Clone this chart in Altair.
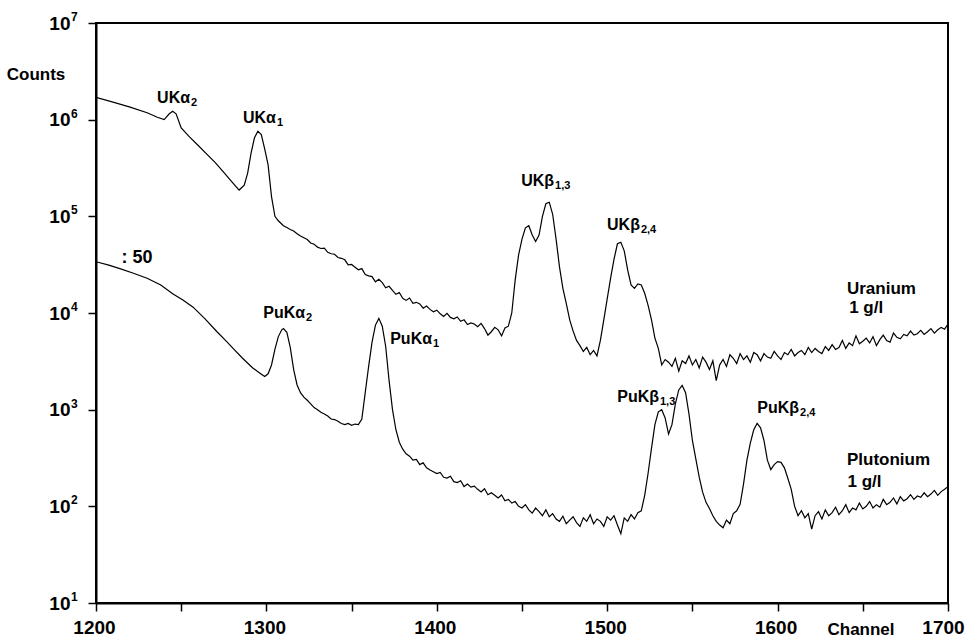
import altair as alt
import pandas as pd

# ---------------- data (channel, counts) ----------------
URANIUM = [
    (1200, 1700000), (1210, 1520000), (1220, 1350000), (1230, 1180000), (1236, 1060000),
    (1240, 1000000), (1243, 1150000), (1245, 1220000), (1247, 1150000), (1250, 820000),
    (1255, 660000), (1260, 540000), (1265, 440000), (1270, 360000), (1275, 285000),
    (1280, 225000), (1284, 187000), (1287, 210000), (1289, 280000), (1291, 450000),
    (1293, 650000), (1295, 760000), (1297, 700000), (1299, 500000), (1301, 340000),
    (1303, 160000), (1305, 100000), (1307, 90000),
    (1310, 80000), (1312, 76500), (1314, 73000), (1316, 70500), (1318, 66000),
    (1320, 62500), (1322, 60000), (1324, 57500), (1326, 53000), (1328, 51500),
    (1330, 48000), (1332, 46500), (1334, 47000), (1336, 42500), (1338, 41000),
    (1340, 40500), (1342, 37500), (1344, 36800), (1346, 35500), (1348, 31500),
    (1350, 31800), (1352, 29800), (1354, 28000), (1356, 28800), (1358, 25000),
    (1360, 24200), (1362, 23800), (1364, 21000), (1366, 22300), (1368, 20600),
    (1370, 18200), (1372, 18900), (1374, 17100), (1376, 15600), (1378, 16300),
    (1380, 14200), (1382, 13500), (1384, 14300), (1386, 12600), (1388, 12900),
    (1390, 12400), (1392, 11200), (1394, 11800), (1396, 10900), (1398, 10300),
    (1400, 10700), (1402, 9800), (1404, 9200), (1406, 9900), (1408, 9000),
    (1410, 8700), (1412, 9100), (1414, 8200), (1416, 8500), (1418, 7600),
    (1420, 7900), (1422, 7700), (1424, 7200), (1426, 7800), (1428, 6900),
    (1430, 5900), (1432, 6400), (1434, 7100), (1436, 6700), (1438, 5800),
    (1440, 7000), (1442, 7300), (1444, 10000), (1446, 22000), (1448, 40000),
    (1450, 58000), (1452, 76000), (1454, 80000), (1456, 64000), (1458, 55000),
    (1460, 64000), (1462, 100000), (1464, 135000), (1466, 140000), (1468, 105000),
    (1470, 58000), (1472, 30000), (1474, 18000), (1476, 12500), (1478, 8500),
    (1480, 6500), (1482, 5200), (1484, 4600), (1486, 4000), (1488, 4400),
    (1490, 3700), (1492, 4100), (1494, 3600), (1496, 5200), (1498, 8500),
    (1500, 14000), (1502, 23000), (1504, 36000), (1506, 52000), (1508, 54000),
    (1510, 44000), (1512, 28000), (1514, 19500), (1516, 18000), (1518, 20000),
    (1520, 19500), (1522, 16000), (1524, 12000), (1526, 8500), (1528, 5500),
    (1530, 4300), (1532, 2900), (1534, 3300), (1536, 3100), (1538, 2800),
    (1540, 3400), (1542, 2500), (1544, 3200), (1546, 3000), (1548, 3600),
    (1550, 2900), (1552, 3300), (1554, 2700), (1556, 3500), (1558, 3100),
    (1560, 2600), (1562, 3200), (1564, 2000), (1566, 2900), (1568, 3300),
    (1570, 2800), (1572, 3700), (1574, 3400), (1576, 3000), (1578, 3800),
    (1580, 3300), (1582, 3600), (1584, 3100), (1586, 3900), (1588, 3700),
    (1590, 3200), (1592, 3800), (1594, 3500), (1596, 3400), (1598, 4000),
    (1600, 3600), (1602, 3300), (1604, 3900), (1606, 3700), (1608, 4200),
    (1610, 3600), (1612, 3900), (1614, 4100), (1616, 3700), (1618, 4400),
    (1620, 3900), (1622, 4300), (1624, 4000), (1626, 3800), (1628, 4500),
    (1630, 4100), (1632, 4700), (1634, 4200), (1636, 4400), (1638, 5200),
    (1640, 4300), (1642, 4900), (1644, 4600), (1646, 5800), (1648, 4800),
    (1650, 5100), (1652, 5500), (1654, 4900), (1656, 5700), (1658, 4600),
    (1660, 5300), (1662, 5900), (1664, 5200), (1666, 5000), (1668, 6200),
    (1670, 5600), (1672, 5400), (1674, 6000), (1676, 5800), (1678, 6500),
    (1680, 5900), (1682, 6100), (1684, 6600), (1686, 6000), (1688, 6400),
    (1690, 6900), (1692, 6200), (1694, 6700), (1696, 7100), (1698, 6800),
    (1700, 7700),
]

PLUTONIUM = [
    (1200, 33900), (1207, 31500), (1214, 28800), (1222, 25800), (1230, 22900),
    (1238, 19500), (1245, 15800), (1251, 13600), (1257, 11500), (1264, 8700),
    (1271, 6400), (1276, 5200), (1281, 4200), (1286, 3400), (1292, 2700),
    (1296, 2400), (1299, 2200), (1301, 2350), (1303, 2900), (1305, 4200),
    (1307, 5700), (1309, 6700), (1310, 6900), (1312, 6300),
    (1314, 4400), (1316, 2600), (1318, 1800), (1320, 1500), (1322, 1350),
    (1324, 1250), (1326, 1150), (1328, 1050), (1330, 1000), (1332, 940),
    (1334, 900), (1336, 860), (1338, 800), (1340, 790), (1342, 760),
    (1344, 720), (1346, 700), (1348, 720), (1350, 690), (1352, 710),
    (1354, 700), (1356, 800), (1358, 1500), (1360, 2800), (1362, 5000),
    (1364, 7500), (1366, 8800), (1368, 7300), (1370, 4500), (1372, 2000),
    (1374, 1000), (1376, 620), (1378, 460), (1380, 390), (1382, 350),
    (1384, 330), (1386, 300), (1388, 305), (1390, 270), (1392, 282),
    (1394, 250), (1396, 238), (1398, 228), (1400, 218), (1402, 224),
    (1404, 200), (1406, 196), (1408, 205), (1410, 180), (1412, 176),
    (1414, 184), (1416, 160), (1418, 170), (1420, 158), (1422, 162),
    (1424, 150), (1426, 141), (1428, 152), (1430, 132), (1432, 138),
    (1434, 130), (1436, 122), (1438, 131), (1440, 114), (1442, 118),
    (1444, 108), (1446, 112), (1448, 100), (1450, 96), (1452, 104),
    (1454, 92), (1456, 85), (1458, 96), (1460, 88), (1462, 80),
    (1464, 92), (1466, 78), (1468, 84), (1470, 74), (1472, 70),
    (1474, 79), (1476, 66), (1478, 72), (1480, 78), (1482, 68),
    (1484, 62), (1486, 76), (1488, 70), (1490, 82), (1492, 66),
    (1494, 74), (1496, 70), (1498, 62), (1500, 78), (1502, 72),
    (1504, 80), (1506, 64), (1508, 52), (1510, 76), (1512, 70),
    (1514, 82), (1516, 74), (1518, 86), (1520, 90), (1522, 130),
    (1524, 220), (1526, 400), (1528, 700), (1530, 950), (1532, 1000),
    (1534, 820), (1536, 560), (1538, 700), (1540, 1150), (1542, 1600),
    (1544, 1780), (1546, 1500), (1548, 900), (1550, 480), (1552, 310),
    (1554, 200), (1556, 140), (1558, 110), (1560, 95), (1562, 80),
    (1564, 70), (1566, 64), (1568, 60), (1570, 72), (1572, 66),
    (1574, 84), (1576, 90), (1578, 105), (1580, 170), (1582, 300),
    (1584, 450), (1586, 620), (1588, 720), (1590, 650), (1592, 480),
    (1594, 300), (1596, 240), (1598, 270), (1600, 290), (1602, 285),
    (1604, 250), (1606, 195), (1608, 150), (1610, 100), (1612, 80),
    (1614, 90), (1616, 76), (1618, 84), (1620, 58), (1622, 80),
    (1624, 88), (1626, 74), (1628, 92), (1630, 80), (1632, 86),
    (1634, 98), (1636, 82), (1638, 90), (1640, 104), (1642, 86),
    (1644, 96), (1646, 92), (1648, 108), (1650, 94), (1652, 100),
    (1654, 112), (1656, 96), (1658, 104), (1660, 98), (1662, 118),
    (1664, 104), (1666, 110), (1668, 122), (1670, 106), (1672, 126),
    (1674, 114), (1676, 120), (1678, 132), (1680, 118), (1682, 128),
    (1684, 124), (1686, 138), (1688, 126), (1690, 134), (1692, 146),
    (1694, 130), (1696, 142), (1698, 150), (1700, 160),
]

# peak labels: main text, subscript, anchor channel, anchor counts
PEAK_MAIN = ["UKα", "UKα", "UKβ", "UKβ", "PuKα", "PuKα", "PuKβ", "PuKβ"]
PEAK_SUB = ["2", "1", "1,3", "2,4", "2", "1", "1,3", "2,4"]
PEAK_CH = [1255.2, 1305.6, 1468.8, 1519.2, 1322.7, 1397.2, 1530.4, 1612.6]
PEAK_COUNTS = [1.67e6, 1.04e6, 2.31e5, 8.1e4, 1.0e4, 5.4e3, 1.35e3, 1.04e3]

NOTE_TEXT = ["Uranium", "1 g/l", "Plutonium", "1 g/l"]
NOTE_CH = [1640.7, 1642.0, 1640.7, 1641.0]
NOTE_COUNTS = [1.77e4, 1.12e4, 301, 178]

SCALE_TEXT = [": 50"]
SCALE_CH = [1224]
SCALE_COUNTS = [3.7e4]

X_TICKS = [1200, 1250, 1300, 1350, 1400, 1450, 1500, 1550, 1600, 1650, 1700]
Y_TICKS = [10, 100, 1000, 10000, 100000, 1000000, 10000000]
Y_EXPONENTS = ["1", "2", "3", "4", "5", "6", "7"]

FONT = "Liberation Sans, Arial, sans-serif"

# ---------------- build ----------------
df = pd.DataFrame(
    [{"channel": c, "counts": v, "series": "Uranium"} for c, v in URANIUM]
    + [{"channel": c, "counts": v, "series": "Plutonium"} for c, v in PLUTONIUM]
)
peaks = pd.DataFrame({"main": PEAK_MAIN, "sub": PEAK_SUB, "ch": PEAK_CH, "counts": PEAK_COUNTS})
notes = pd.DataFrame({"t": NOTE_TEXT, "ch": NOTE_CH, "counts": NOTE_COUNTS})
scl = pd.DataFrame({"t": SCALE_TEXT, "ch": SCALE_CH, "counts": SCALE_COUNTS})
expo = pd.DataFrame({"counts": Y_TICKS, "e": Y_EXPONENTS})

xscale = alt.Scale(domain=[1200, 1700], nice=False, zero=False)
yscale = alt.Scale(type="log", domain=[10, 10000000], nice=False)

xaxis = alt.Axis(
    values=X_TICKS, labelExpr="datum.value % 100 == 0 ? datum.label : ''", format="d",
    grid=False, title=None, tickSize=8, tickWidth=1.5, tickColor="black",
    domainColor="black", domainWidth=2, labelPadding=7, labelFont=FONT,
    labelFontSize=19, labelFontWeight="bold", labelColor="black", labelFlush=False,
    labelOffset={"condition": {"test": "datum.value == 1700", "value": -5}, "value": -2},
)
yaxis = alt.Axis(
    values=Y_TICKS, labelExpr="'10'",
    grid=False, title=None, tickSize=8, tickWidth=1.5, tickColor="black",
    domainColor="black", domainWidth=2, labelPadding=18, labelFont=FONT,
    labelFontSize=19, labelFontWeight="bold", labelColor="black", labelFlush=False,
)

lines = alt.Chart(df).mark_line(color="black", strokeWidth=1.2, clip=True).encode(
    x=alt.X("channel:Q", scale=xscale, axis=xaxis),
    y=alt.Y("counts:Q", scale=yscale, axis=yaxis),
    detail="series:N",
)

exponents = alt.Chart(expo).mark_text(
    align="left", baseline="middle", font=FONT, fontSize=12, fontWeight="bold",
    color="black", dy=-6
).encode(x=alt.value(-25), y=alt.Y("counts:Q", scale=yscale), text="e:N")

peak_main = alt.Chart(peaks).mark_text(
    align="right", baseline="middle", font=FONT, fontSize=16, fontWeight="bold", color="black"
).encode(x=alt.X("ch:Q", scale=xscale), y=alt.Y("counts:Q", scale=yscale), text="main:N")

peak_sub = alt.Chart(peaks).mark_text(
    align="left", baseline="middle", font=FONT, fontSize=11, fontWeight="bold", color="black", dy=5, dx=1
).encode(x=alt.X("ch:Q", scale=xscale), y=alt.Y("counts:Q", scale=yscale), text="sub:N")

note_text = alt.Chart(notes).mark_text(
    align="left", baseline="middle", font=FONT, fontSize=17, fontWeight="bold", color="black"
).encode(x=alt.X("ch:Q", scale=xscale), y=alt.Y("counts:Q", scale=yscale), text="t:N")

scale_text = alt.Chart(scl).mark_text(
    align="center", baseline="middle", font=FONT, fontSize=18, fontWeight="bold", color="black"
).encode(x=alt.X("ch:Q", scale=xscale), y=alt.Y("counts:Q", scale=yscale), text="t:N")

counts_title = alt.Chart(pd.DataFrame({"t": ["Counts"]})).mark_text(
    align="center", baseline="middle", font=FONT, fontSize=17, fontWeight="bold", color="black"
).encode(x=alt.value(-60), y=alt.value(52), text="t:N")

channel_title = alt.Chart(pd.DataFrame({"t": ["Channel"]})).mark_text(
    align="center", baseline="middle", font=FONT, fontSize=17, fontWeight="bold", color="black"
).encode(x=alt.value(765), y=alt.value(27 + 580), text="t:N")

chart = alt.layer(
    lines, exponents, peak_main, peak_sub, note_text, scale_text, counts_title, channel_title
).properties(
    width=852, height=580,
    autosize=alt.AutoSizeParams(type="none"),
    padding={"left": 96, "top": 23, "right": 17, "bottom": 39},
    background="white",
).configure_view(stroke="black", strokeWidth=2)

chart.save("out.html", embed_options={"renderer": "svg", "actions": False})
